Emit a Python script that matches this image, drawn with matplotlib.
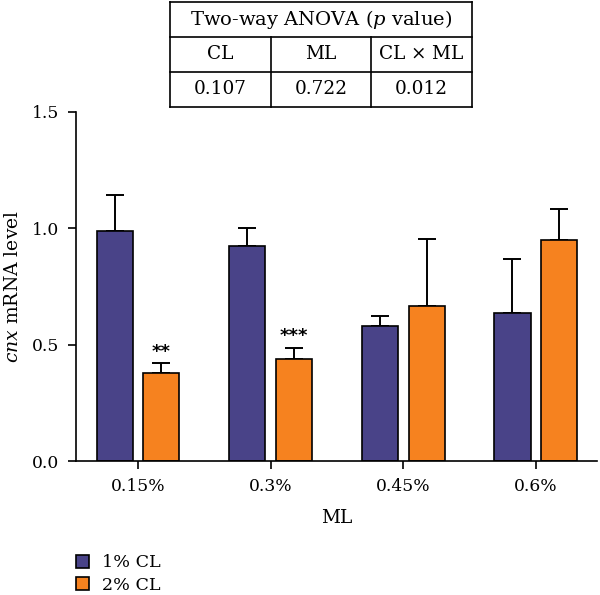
import matplotlib
matplotlib.use('Agg')
import matplotlib.pyplot as plt
import numpy as np

plt.rcParams.update({
    'font.family': 'DejaVu Serif',
    'font.size': 12,
    'mathtext.fontset': 'custom',
    'mathtext.it': 'DejaVu Serif:italic',
    'mathtext.rm': 'DejaVu Serif',
    'axes.linewidth': 1.2,
})

ML = ['0.15%', '0.3%', '0.45%', '0.6%']
CL1_MEAN = [0.987, 0.926, 0.582, 0.635]
CL1_ERR = [0.158, 0.074, 0.040, 0.235]
CL2_MEAN = [0.378, 0.437, 0.665, 0.948]
CL2_ERR = [0.042, 0.050, 0.289, 0.135]
CL2_STARS = ['**', '***', '', '']

ANOVA_COLS = ['CL', 'ML', r'CL $\times$ ML']
ANOVA_P = ['0.107', '0.722', '0.012']

BLUE = '#494388'
ORANGE = '#f6821f'

fig = plt.figure(figsize=(6.0, 5.95), dpi=100)
ax = fig.add_axes([0.1267, 0.2252, 0.868, 0.5866])

x = np.arange(len(ML))
w = 0.272
off = 0.176
b1 = ax.bar(x - off, CL1_MEAN, w, color=BLUE, edgecolor='black', linewidth=1.2,
            label='1% CL', zorder=2)
b2 = ax.bar(x + off, CL2_MEAN, w, color=ORANGE, edgecolor='black', linewidth=1.2,
            label='2% CL', zorder=2)
ax.errorbar(x - off, CL1_MEAN, yerr=[np.zeros(4), CL1_ERR], fmt='none',
            ecolor='black', elinewidth=1.4, capsize=6.5, capthick=1.4, zorder=1)
ax.errorbar(x + off, CL2_MEAN, yerr=[np.zeros(4), CL2_ERR], fmt='none',
            ecolor='black', elinewidth=1.4, capsize=6.5, capthick=1.4, zorder=1)
for xi, m, e, s in zip(x + off, CL2_MEAN, CL2_ERR, CL2_STARS):
    if s:
        ax.text(xi, m + e + 0.01, s, ha='center', va='bottom', fontsize=13,
                family='DejaVu Sans', fontweight='bold')

ax.set_xlim(-0.468, 3.46)
ax.set_ylim(0, 1.5)
ax.set_yticks([0, 0.5, 1.0, 1.5])
ax.set_yticklabels(['0.0', '0.5', '1.0', '1.5'])
ax.set_xticks(x)
ax.set_xticklabels(ML)
ax.tick_params(length=6, width=1.2, pad=6, labelsize=12.3)
ax.spines['top'].set_visible(False)
ax.spines['right'].set_visible(False)
ax.set_xlabel('ML', labelpad=10, fontsize=13.3)
ax.set_ylabel(r'$\mathit{cnx}$ mRNA level', labelpad=7, fontsize=13.5)

fig.legend(handles=[b1, b2], loc='upper left', bbox_to_anchor=(0.115, 0.08),
           frameon=False, handlelength=0.75, handleheight=0.75, handletextpad=0.75,
           labelspacing=0.3, borderaxespad=0, fontsize=12.6)

# ANOVA table
tax = fig.add_axes([170 / 600, 1 - 106.7 / 595, 302 / 600, 104.7 / 595])
tax.set_xlim(0, 3)
tax.set_ylim(0, 3)
tax.axis('off')
lw = 1.2
for yv in [0, 1, 2, 3]:
    tax.plot([0, 3], [yv, yv], color='black', lw=lw, clip_on=False)
for xv in [0, 3]:
    tax.plot([xv, xv], [0, 3], color='black', lw=lw, clip_on=False)
for xv in [1, 2]:
    tax.plot([xv, xv], [0, 2], color='black', lw=lw, clip_on=False)
tax.text(1.5, 2.5, r'Two-way ANOVA ($\mathit{p}$ value)', ha='center', va='center',
         fontsize=14)
for i, (c, p) in enumerate(zip(ANOVA_COLS, ANOVA_P)):
    tax.text(i + 0.5, 1.5, c, ha='center', va='center', fontsize=13.3)
    tax.text(i + 0.5, 0.5, p, ha='center', va='center', fontsize=13.3)

fig.savefig('out.png', dpi=100)
